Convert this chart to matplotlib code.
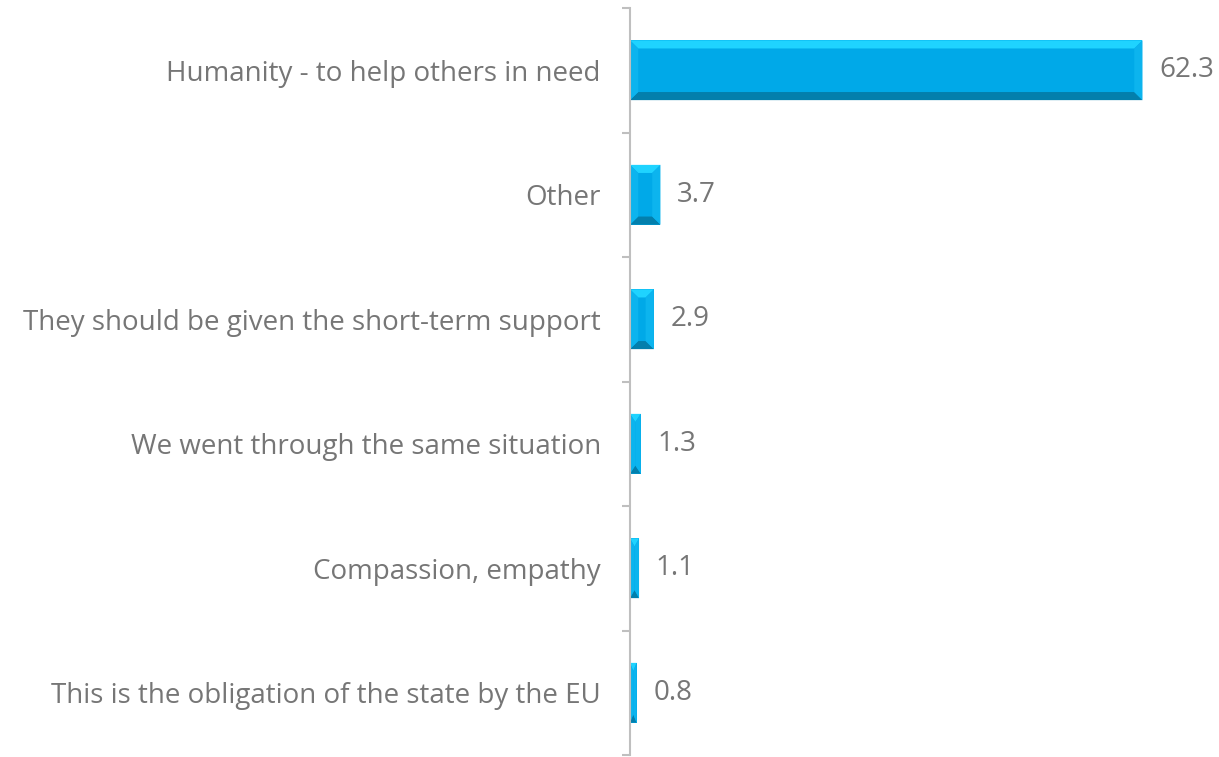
import matplotlib.pyplot as plt
from matplotlib.patches import Polygon

categories = [
    "Humanity - to help others in need",
    "Other",
    "They should be given the short-term support",
    "We went through the same situation",
    "Compassion, empathy",
    "This is the obligation of the state by the EU",
]
values = [62.3, 3.7, 2.9, 1.3, 1.1, 0.8]

text_color = "#767676"
axis_color = "#BFBFBF"
bar_mid = "#00A9E8"
bar_top = "#1FD3FF"
bar_side = "#0CB4EE"
bar_bottom = "#037FAC"
bar_height = 0.48

plt.rcParams["font.family"] = ["Open Sans", "DejaVu Sans"]

fig = plt.figure(figsize=(12.19, 7.57), dpi=100)
ax = fig.add_axes([630 / 1219, 2 / 757, 589 / 1219, 747 / 757])

n = len(categories)
ypos = list(range(n))[::-1]
ax.set_xlim(0, 71.6)
ax.set_ylim(-0.5, n - 0.5)

bars = ax.barh(ypos, values, height=bar_height, color=bar_mid, linewidth=0)

# bevel edges: depth in data units (~8 px each way)
bx_full = 1.0
by = 0.065
for y, v in zip(ypos, values):
    y0, y1 = y - bar_height / 2, y + bar_height / 2
    bx = min(bx_full, v / 2)
    top = [(0, y1), (v, y1), (v - bx, y1 - by), (bx, y1 - by)]
    bottom = [(0, y0), (v, y0), (v - bx, y0 + by), (bx, y0 + by)]
    left = [(0, y0), (bx, y0 + by), (bx, y1 - by), (0, y1)]
    right = [(v, y0), (v - bx, y0 + by), (v - bx, y1 - by), (v, y1)]
    ax.add_patch(Polygon(top, closed=True, color=bar_top, lw=0))
    ax.add_patch(Polygon(bottom, closed=True, color=bar_bottom, lw=0))
    ax.add_patch(Polygon(left, closed=True, color=bar_side, lw=0))
    ax.add_patch(Polygon(right, closed=True, color=bar_side, lw=0))
    ax.annotate(f"{v:.1f}", xy=(v, y), xytext=(12, 0), textcoords="offset points",
                ha="left", va="center", fontsize=20, color=text_color)

for side in ["top", "right", "bottom"]:
    ax.spines[side].set_visible(False)
ax.spines["left"].set_color(axis_color)
ax.spines["left"].set_linewidth(1.5)

ax.set_xticks([])
ax.set_yticks(ypos)
ax.set_yticklabels(categories, fontsize=20, color=text_color)
ax.tick_params(axis="y", which="major", length=0, pad=21)
ax.set_yticks([i - 0.5 for i in range(n + 1)], minor=True)
ax.tick_params(axis="y", which="minor", length=6, width=1.5, color=axis_color, direction="out")

fig.savefig("out.png", dpi=100)
